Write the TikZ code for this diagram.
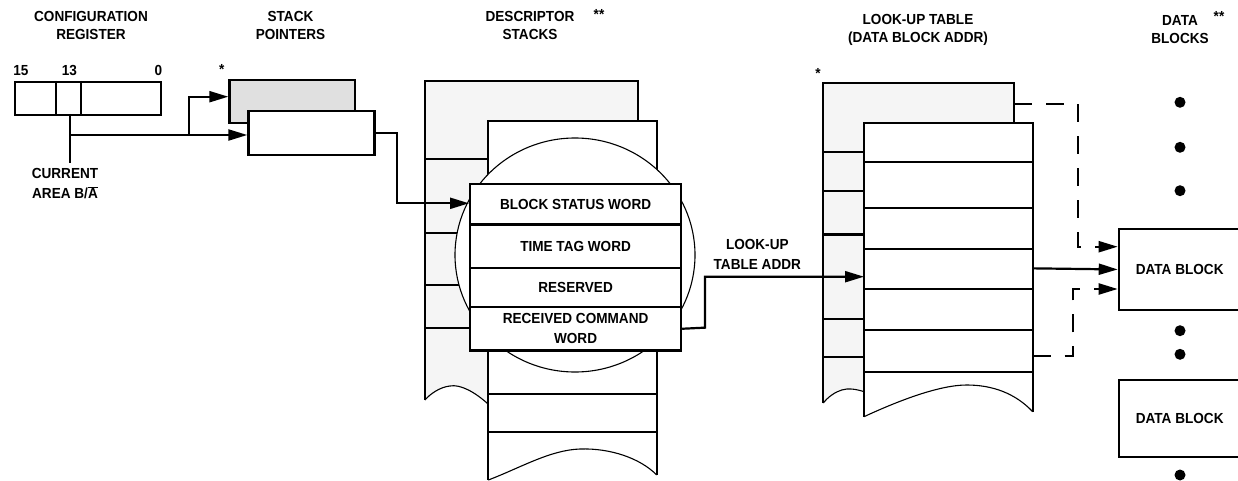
\documentclass[tikz,border=0pt]{standalone}
\usepackage{fontspec}
\setmainfont{Liberation Sans}[FakeStretch=0.93]
\usetikzlibrary{arrows.meta}
\definecolor{lg}{HTML}{F5F5F5}
\definecolor{mg}{HTML}{E0E0E0}
\newcommand\dlbl{\fontsize{14.6}{18}\selectfont\bfseries}
\newcommand\dlblw{\fontsize{14.6}{20}\selectfont\bfseries}
\tikzset{
  lw/.style={line width=2.2pt},
  thinl/.style={line width=1.1pt},
  box/.style={draw, line width=2.2pt, fill=white, inner sep=0pt, anchor=north west, align=center, font=\dlbl},
  txt/.style={inner sep=0pt, align=center, font=\dlbl},
  arr/.style={-{Triangle[length=19pt,width=11pt]}, line width=2.2pt},
  dsh/.style={dash pattern=on 18pt off 14pt},
  dot/.style={circle, fill=black, inner sep=0pt, minimum size=11pt}
}
\begin{document}
\begin{tikzpicture}[x=1pt,y=-1pt]
\useasboundingbox (0,0) rectangle (1238,481);

% titles
\node[txt] (t1) at (91,25) {CONFIGURATION\\REGISTER};
\node[txt] (t2) at (290.5,25) {STACK\\POINTERS};
\node[txt] (t3) at (530,25.5) {DESCRIPTOR\\STACKS};
\node[txt] (t3s) at (599,14) {**};
\node[txt] (t4) at (918,30) {LOOK-UP TABLE\\(DATA BLOCK ADDR)};
\node[txt] (t5) at (1180,30) {DATA\\BLOCKS};
\node[txt] (t5s) at (1219,16) {**};

% configuration register
\node[box, minimum width=146pt, minimum height=33pt] (cr) at (14,81) {};
\draw[lw] (55.7,81) -- (55.7,114);
\draw[lw] (80.7,81) -- (80.7,114);
\node[txt] (b15) at (21,70.5) {15};
\node[txt] (b13) at (69.5,70.5) {13};
\node[txt] (b0) at (158.5,70.5) {0};
\coordinate (bit13) at (70,114);
\coordinate (curend) at (70,163.3);
\draw[lw] (bit13) -- (curend);
\node[txt, font=\dlblw] (cur) at (65,184) {CURRENT\\AREA B/$\overline{\mbox{A}}$};

% stack pointers
\node[box, fill=mg, minimum width=125.7pt, minimum height=42.7pt] (sp1) at (228.3,79) {};
\node[txt] (sp1s) at (221.7,69) {*};
\node[box, minimum width=126pt, minimum height=44pt] (sp2) at (247.3,110) {};
\coordinate (j1) at (70,135);
\coordinate (j2) at (189.3,135);
\coordinate (j3) at (189.3,96.7);
\draw[arr] (j1) -- (sp2.west |- j1);
\draw[arr] (j2) -- (j3) -- (sp1.west |- j3);

% descriptor stacks: back
\fill[lg] (425,80.7) -- (638.3,80.7) -- (638.3,300) -- (488,300) -- (488,404) .. controls (475,392) and (460,384) .. (450,386) .. controls (440,387) and (430,394) .. (425,400) -- cycle;
\draw[lw] (425,400) -- (425,80.7) -- (638.3,80.7) -- (638.3,130);
\draw[thinl] (488,404) .. controls (475,392) and (460,384) .. (450,386) .. controls (440,387) and (430,394) .. (425,400);
\foreach \y in {159,233.3,285,328.3} \draw[lw] (425,\y) -- (489,\y);

% descriptor stacks: front
\fill[white] (488.3,120.7) -- (656.7,120.7) -- (656.7,475) .. controls (640,458) and (610,448) .. (580,449) .. controls (550,450) and (520,468) .. (488.3,480) -- cycle;
\draw[lw] (488.3,480) -- (488.3,120.7) -- (656.7,120.7) -- (656.7,475);
\draw[thinl] (656.7,475) .. controls (640,458) and (610,448) .. (580,449) .. controls (550,450) and (520,468) .. (488.3,480);
\foreach \y in {394.3,431.7} \draw[lw] (488.3,\y) -- (656.7,\y);

% magnifier circle
\draw[thinl, fill=white] (575,255) ellipse [x radius=120pt, y radius=117pt];

% descriptor words
\node[box, minimum width=211pt, minimum height=40.6pt] (w1) at (469,182.7) {BLOCK STATUS WORD};
\node[box, minimum width=211pt, minimum height=43.4pt] (w2) at (469,223.3) {TIME TAG WORD};
\node[box, minimum width=211pt, minimum height=39.3pt] (w3) at (469,266.7) {RESERVED};
\node[box, minimum width=211pt, minimum height=43.3pt] (w4) at (469,306) {RECEIVED COMMAND\\[2pt]WORD};

% stack pointer to descriptor
\coordinate (o1) at (396.7,132.7);
\coordinate (o2) at (396.7,203.3);
\draw[arr] (sp2.east |- o1) -- (o1) -- (o2) -- (w1.west |- o2);

% look-up table: back
\fill[lg] (823.3,83.3) -- (1014,83.3) -- (1014,300) -- (864,300) -- (864,391.7) .. controls (856,389) and (848,388) .. (841.7,390) .. controls (835,392) and (828,397) .. (823.3,403) -- cycle;
\draw[lw] (823.3,403) -- (823.3,83.3) -- (1014,83.3) -- (1014,130);
\draw[thinl] (864,391.7) .. controls (856,389) and (848,388) .. (841.7,390) .. controls (835,392) and (828,397) .. (823.3,403);
\foreach \y in {151.7,191,234.5,319,356.7} \draw[lw] (823.3,\y) -- (865,\y);

% look-up table: front
\fill[white] (864,122.7) -- (1032.7,122.7) -- (1032.7,411.7) .. controls (1015,393) and (992,385) .. (966.7,385) .. controls (940,385) and (900,400) .. (864,416.7) -- cycle;
\draw[lw] (864,416.7) -- (864,122.7) -- (1032.7,122.7) -- (1032.7,411.7);
\draw[thinl] (1032.7,411.7) .. controls (1015,393) and (992,385) .. (966.7,385) .. controls (940,385) and (900,400) .. (864,416.7);
\foreach \y in {161.7,208.3,249,289,330,371.7} \draw[lw] (864,\y) -- (1032.7,\y);
\node[txt] (lts) at (818,73.5) {*};

% descriptor to look-up table
\coordinate (p1) at (705,327.65);
\coordinate (p2) at (705,276.7);
\coordinate (ltin) at (864,276.7);
\draw[arr] (w4.east) -- (p1) -- (p2) -- (ltin);
\node[txt, font=\dlblw] (la) at (757.3,254.5) {LOOK-UP\\TABLE ADDR};

% data blocks
\node[box, minimum width=121.8pt, minimum height=81.3pt] (db1) at (1117.7,227.7) {DATA BLOCK};
\node[box, minimum width=121.8pt, minimum height=77pt] (db2) at (1117.7,379) {DATA BLOCK};
\foreach \n/\y in {k1/102.3,k2/147.3,k3/190.7,k4/330.7,k5/354.3,k6/475} \node[dot] (\n) at (1180,\y) {};

% look-up table to data block
\coordinate (lo) at (1032.7,268.35);
\draw[arr] (lo) -- (db1.west);
\coordinate (d1) at (1014,104);
\coordinate (d2) at (1077.7,104);
\coordinate (d3) at (1077.7,246.7);
\draw[arr, dsh] (d1) -- (d2) -- (d3) -- (db1.west |- d3);
\coordinate (e1) at (1032.7,355.7);
\coordinate (e2) at (1073.3,355.7);
\coordinate (e3) at (1073.3,289);
\draw[arr, dsh] (e1) -- (e2) -- (e3) -- (db1.west |- e3);
\end{tikzpicture}
\end{document}
